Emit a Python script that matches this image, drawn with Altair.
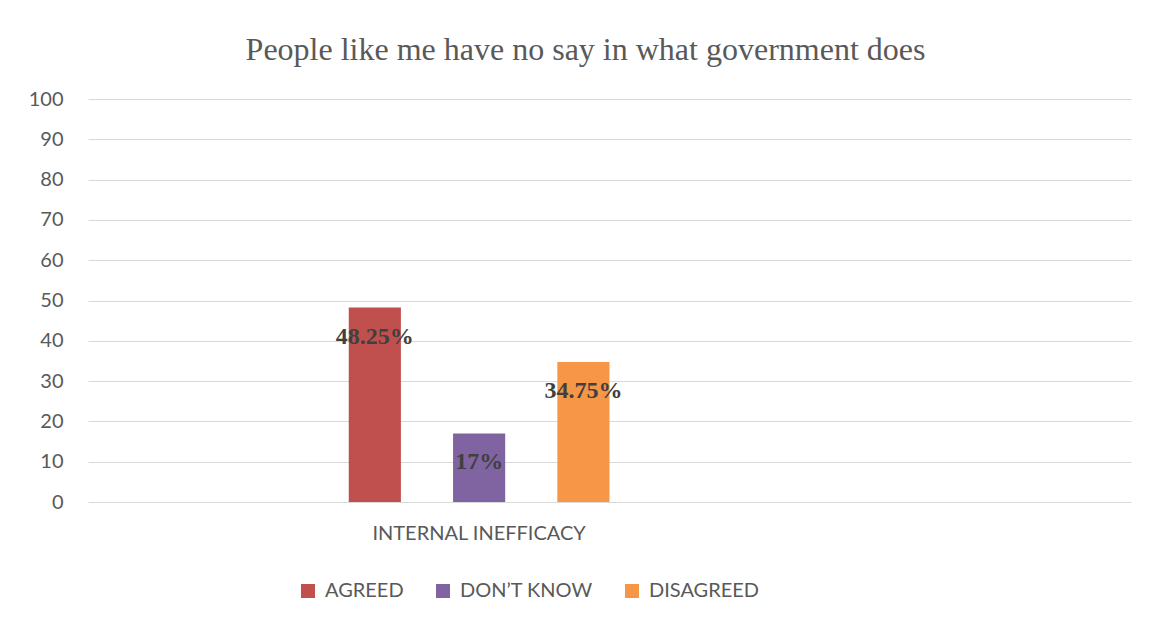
import altair as alt
import pandas as pd

# ---- data ----
categories = ["INTERNAL INEFFICACY"]
series = ["AGREED", "DON\u2019T KNOW", "DISAGREED"]
values = [48.25, 17, 34.75]
value_labels = ["48.25%", "17%", "34.75%"]
colors = ["#C0504D", "#8064A2", "#F79646"]
x_domain = ["", "INTERNAL INEFFICACY", " ", "   "]
y_ticks = [0, 10, 20, 30, 40, 50, 60, 70, 80, 90, 100]

df = pd.DataFrame({
    "category": [categories[0]] * len(series),
    "series": series,
    "value": values,
    "label": value_labels,
})

SANS = "Lato"
SERIF = "Liberation Serif"
GREY = "#595959"

x_enc = alt.X(
    "category:N",
    scale=alt.Scale(domain=x_domain, paddingInner=0, paddingOuter=0),
    axis=alt.Axis(
        title=None, labelAngle=0, ticks=False, tickSize=0, domain=False,
        labelFont=SANS, labelFontSize=20, labelColor=GREY, labelPadding=21,
        labelLimit=0, grid=False,
    ),
)
xoff_enc = alt.XOffset(
    "series:N",
    scale=alt.Scale(domain=series, paddingInner=0.5, paddingOuter=0),
)
y_enc = alt.Y(
    "value:Q",
    scale=alt.Scale(domain=[0, 100], nice=False),
    axis=alt.Axis(
        title=None, values=y_ticks, ticks=False, tickSize=0, domain=False,
        labelFont=SANS, labelFontSize=20, labelColor=GREY, labelPadding=25,
        grid=True, gridColor="#D9D9D9", gridWidth=1,
    ),
)

bars = alt.Chart(df).mark_bar().encode(
    x=x_enc,
    xOffset=xoff_enc,
    y=y_enc,
    color=alt.Color(
        "series:N",
        scale=alt.Scale(domain=series, range=colors),
        legend=alt.Legend(
            title=None, orient="none", direction="horizontal",
            legendX=210, legendY=482, padding=0,
            symbolType="square", symbolSize=196, symbolStrokeWidth=0,
            labelFont=SANS, labelFontSize=20, labelColor=GREY,
            labelOffset=7, columnPadding=29,
        ),
    ),
)

labels = alt.Chart(df).mark_text(
    font=SERIF, fontSize=24, fontWeight="bold", color="#404040",
    baseline="middle", align="center", dy=29,
).encode(
    x=alt.X("category:N", scale=alt.Scale(domain=x_domain, paddingInner=0, paddingOuter=0)),
    xOffset=xoff_enc,
    y=alt.Y("value:Q"),
    text="label:N",
)

chart = (
    alt.layer(bars, labels)
    .properties(
        width=1043,
        height=403,
        title=alt.TitleParams(
            "People like me have no say in what government does",
            font=SERIF, fontSize=32, fontWeight="normal", color=GREY,
            anchor="middle", dx=-24, offset=22,
        ),
        autosize=alt.AutoSizeParams(type="none"),
        padding={"left": 80, "top": 91, "right": 10, "bottom": 105},
        background="white",
    )
    .configure_view(stroke=None)
)

chart.save("out.html", embed_options={"renderer": "svg", "actions": False})
